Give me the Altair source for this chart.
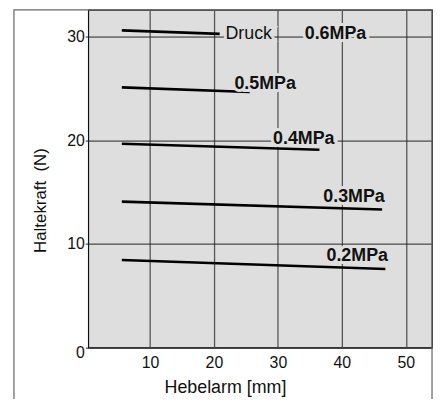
import altair as alt
import pandas as pd

# ---- data ----
pressure = ["0.2MPa", "0.3MPa", "0.4MPa", "0.5MPa", "0.6MPa"]
x_start = [5.6, 5.6, 5.6, 5.6, 5.6]
y_start = [8.45, 14.08, 19.66, 25.1, 30.6]
x_end = [46.8, 46.3, 36.5, 25.6, 20.9]
y_end = [7.58, 13.32, 19.08, 24.65, 30.26]

label_x = [37.6, 37.1, 29.25, 23.2, 34.2]
label_y = [8.86, 14.52, 20.1, 25.4, 30.26]

extra_text = ["Druck"]
extra_x = [21.8]
extra_y = [30.26]

x_ticks = [10, 20, 30, 40, 50]
y_ticks = [0, 10, 20, 30]

# ---- tables ----
rows = []
for p, xs, ys, xe, ye in zip(pressure, x_start, y_start, x_end, y_end):
    rows.append({"p": p, "x": xs, "y": ys})
    rows.append({"p": p, "x": xe, "y": ye})
lines_df = pd.DataFrame(rows)
labels_df = pd.DataFrame({"t": pressure, "x": label_x, "y": label_y})
extra_df = pd.DataFrame({"t": extra_text, "x": extra_x, "y": extra_y})

BG = "#dedede"
FONT = "Liberation Sans"
W, H = 347, 341

xscale = alt.Scale(domain=[0.35, 54.1], nice=False, zero=False)
yscale = alt.Scale(domain=[0, 32.58], nice=False, zero=False)

x_axis = alt.Axis(
    values=x_ticks, grid=True, gridColor="#555", gridWidth=1.3,
    ticks=False, domain=False, labelFontSize=16, labelFont=FONT,
    labelColor="#111", labelBaseline="middle", labelPadding=15,
    title="Hebelarm [mm]", titleFont=FONT, titleFontSize=18,
    titleFontWeight="normal", titleColor="#111",
    titleX=138, titleY=40, titleBaseline="middle", titleAlign="center",
)
y_axis = alt.Axis(
    values=y_ticks, grid=True, gridColor="#222", gridWidth=1,
    ticks=True, tickSize=3, tickColor="#222", domain=False,
    labelFontSize=16, labelFont=FONT, labelColor="#111", labelPadding=1,
    labelOffset={"condition": {"test": "datum.value === 0", "value": 5}, "value": 0},
    title="Haltekraft\u00a0 (N)", titleFont=FONT, titleFontSize=17,
    titleFontWeight="normal", titleColor="#111",
    titleX=-48, titleY=192, titleBaseline="middle", titleAlign="center", titleAngle=270,
)

frame = alt.Chart(pd.DataFrame({"a": [0]})).mark_rect(
    fillOpacity=0, stroke="#666", strokeWidth=1.2, clip=False
).encode(
    x=alt.value(-75), x2=alt.value(W), y=alt.value(0), y2=alt.value(H + 200)
)

lines = alt.Chart(lines_df).mark_line(color="black", strokeWidth=2.6).encode(
    x=alt.X("x:Q", scale=xscale, axis=x_axis),
    y=alt.Y("y:Q", scale=yscale, axis=y_axis),
    detail="p:N",
)

halo = alt.Chart(labels_df).mark_text(
    align="left", baseline="middle", font=FONT, fontSize=18, fontWeight="bold",
    stroke=BG, strokeWidth=6, fill=BG,
).encode(x=alt.X("x:Q", scale=xscale), y=alt.Y("y:Q", scale=yscale), text="t:N")

labels = alt.Chart(labels_df).mark_text(
    align="left", baseline="middle", font=FONT, fontSize=18, fontWeight="bold",
    color="#111",
).encode(x=alt.X("x:Q", scale=xscale), y=alt.Y("y:Q", scale=yscale), text="t:N")

halo2 = alt.Chart(extra_df).mark_text(
    align="left", baseline="middle", font=FONT, fontSize=18,
    stroke=BG, strokeWidth=6, fill=BG,
).encode(x=alt.X("x:Q", scale=xscale), y=alt.Y("y:Q", scale=yscale), text="t:N")

extra = alt.Chart(extra_df).mark_text(
    align="left", baseline="middle", font=FONT, fontSize=18, color="#111",
).encode(x=alt.X("x:Q", scale=xscale), y=alt.Y("y:Q", scale=yscale), text="t:N")

chart = alt.layer(frame, lines, halo, halo2, labels, extra).properties(
    width=W, height=H,
    background="white",
    autosize=alt.AutoSizeParams(type="none"),
    padding={"left": 81, "top": 0, "right": 3, "bottom": 50},
).configure_view(
    fill=BG, stroke="#111", strokeWidth=1.2
)

chart.save("out.html", embed_options={"renderer": "svg", "actions": False})
